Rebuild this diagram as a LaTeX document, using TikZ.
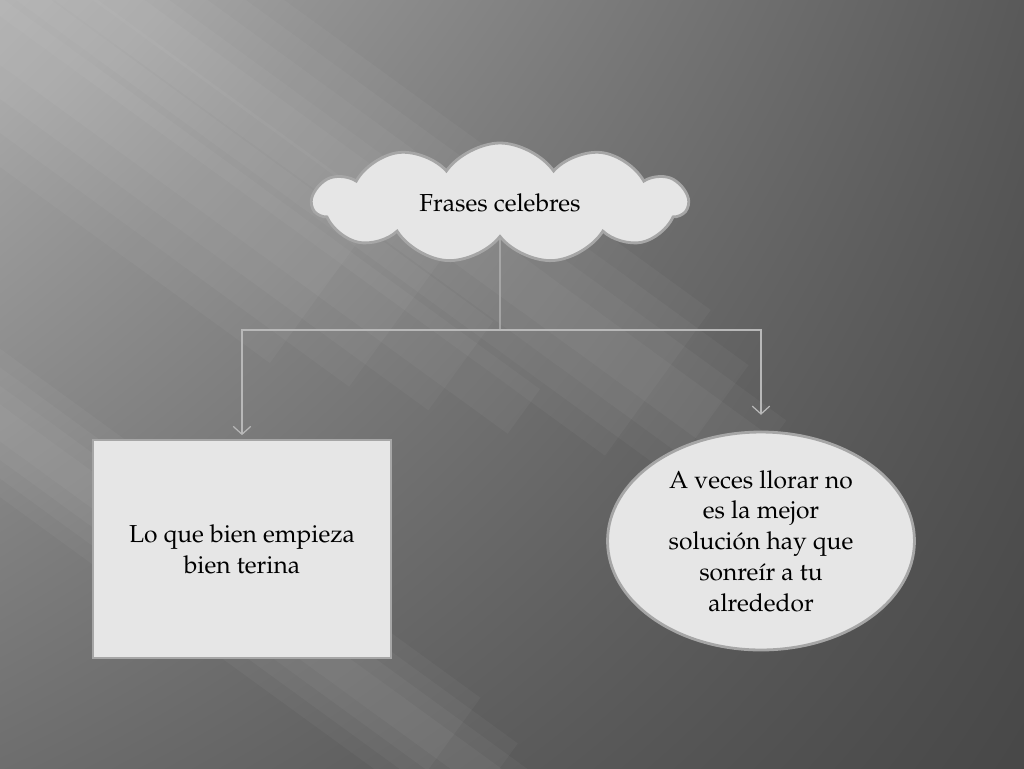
\documentclass[tikz,border=0pt]{standalone}
\usepackage[T1]{fontenc}
\usepackage{mathpazo}
\usetikzlibrary{arrows.meta, shadings, shapes.geometric, shapes.symbols}
\definecolor{boxfill}{HTML}{E6E6E6}
\definecolor{boxline}{HTML}{A6A6A6}
\definecolor{linkgray}{HTML}{B8B8B8}
\tikzset{larrow/.style = {-{Straight Barb[length=.45em, width=1em]}}}
\tikzset{link/.style = {draw=linkgray, line width=.7pt}}
\tikzset{shape box/.style = {fill=boxfill, draw=boxline, line width=1.6pt,
    align=center, font=\fontsize{14}{17.5}\selectfont}}

\begin{document}
\begin{tikzpicture}[x=0.02cm, y=-0.02cm]
    \useasboundingbox (0,0) rectangle (1024,768);
    % background
    \shade[upper left=black!33, upper right=black!65, lower left=black!57, lower right=black!72]
        (0,0) rectangle (1024,768);
    \begin{scope}
        \clip (0,0) rectangle (1024,768);
        \foreach \Cx/\Cy/\Width/\Len in {420/210/90/420, 230/590/60/380, 40/60/110/520} {
            \begin{scope}[shift={(\Cx,\Cy)}, rotate=-36]
                \foreach \w in {0.25,0.5,0.75,1}
                    \fill[white, opacity=.035] (-900,-\w*\Width) rectangle ({\Len*(1.3-0.6*\w)},\w*\Width);
            \end{scope}
        }
    \end{scope}

    \node[shape box, cloud, cloud puffs=11, cloud puff arc=110, aspect=3,
          minimum width=7.5cm, minimum height=2.4cm, inner sep=0pt]
        (frases) at (500,203) {Frases celebres};
    \node[shape box, rectangle, minimum width=5.96cm, minimum height=4.36cm]
        (empieza) at (242,549) {Lo que bien empieza\\bien terina};
    \node[shape box, ellipse, minimum width=6.14cm, minimum height=4.36cm, inner sep=0pt]
        (llorar) at (761,541) {A veces llorar no\\es la mejor\\soluci\'on hay que\\sonre\'{\i}r a tu\\alrededor};

    \coordinate (fork) at (500,330);
    \draw[link] (frases.south) -- (fork);
    \draw[link, larrow, shorten >=2pt] (fork) -| (empieza.north);
    \draw[link, larrow, shorten >=9pt] (fork) -| (llorar.north);
\end{tikzpicture}
\end{document}
